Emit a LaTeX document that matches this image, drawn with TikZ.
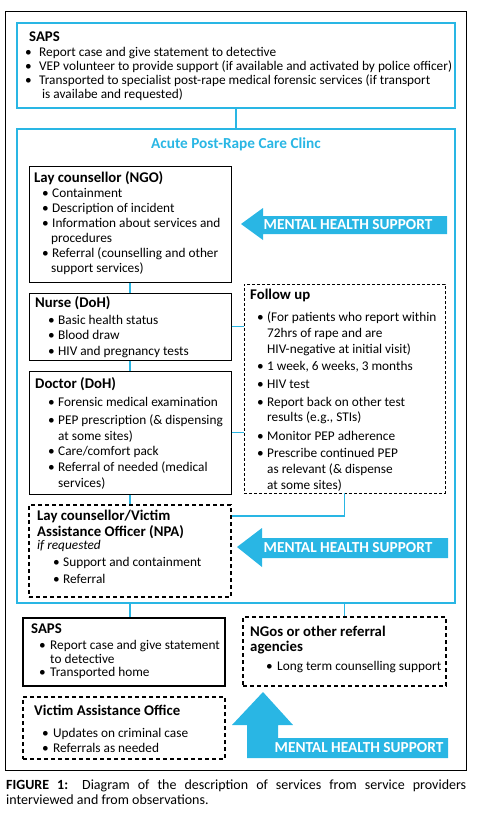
\documentclass[tikz,border=0pt]{standalone}
\usepackage{fontspec}
\setmainfont{Carlito}
\definecolor{cy}{RGB}{41,182,228}
\newcommand\bi[2]{\hspace*{#1}\makebox[#2][l]{\textbullet}}
\newcommand\ci[1]{\hspace*{#1}}
\newcommand\hd[1]{\rule{0pt}{14pt}{\fontsize{14.8}{14}\selectfont\bfseries #1}}
\begin{document}
\begin{tikzpicture}[x=1pt,y=-1pt,
  cybox/.style={draw=cy,line width=2.2pt,inner sep=0pt},
  sbox/.style={draw=black,line width=1pt,inner sep=0pt},
  dbox/.style={draw=black,line width=0.8pt,dash pattern=on 3pt off 2pt,inner sep=0pt},
  tdbox/.style={draw=black,line width=2.2pt,dash pattern=on 4pt off 3pt,inner sep=0pt},
  mdbox/.style={draw=black,line width=1.5pt,dash pattern=on 4pt off 3pt,inner sep=0pt},
  conn/.style={draw=cy,line width=1.5pt},
  txt/.style={anchor=north west,inner sep=0pt,align=left},
  mhs/.style={text=white,font=\fontsize{15.3}{15}\selectfont\bfseries,inner sep=0pt},
  arr/.style={fill=cy,draw=none}]
\useasboundingbox (0,0) rectangle (481,820);
\node[draw=black,line width=0.8pt,minimum width=461pt,minimum height=759pt,inner sep=0pt] (frame) at (235.5,390.5) {};
% boxes
\node[cybox,minimum width=438pt,minimum height=85pt] (saps1) at (236,65.5) {};
\node[cybox,minimum width=438pt,minimum height=474pt] (clinic) at (236,366) {};
\node[sbox,minimum width=202pt,minimum height=116pt] (lay) at (130,224) {};
\node[sbox,minimum width=202pt,minimum height=67pt] (nurse) at (130,326.5) {};
\node[sbox,minimum width=202pt,minimum height=123pt] (doctor) at (130,432.5) {};
\node[dbox,minimum width=201pt,minimum height=209pt] (follow) at (344.5,388.5) {};
\node[tdbox,minimum width=202pt,minimum height=92pt] (vao) at (130,551) {};
\node[sbox,line width=1.6pt,minimum width=202pt,minimum height=68pt] (saps2) at (124,652) {};
\node[mdbox,minimum width=203pt,minimum height=69pt] (ngo) at (344.5,651.5) {};
\node[mdbox,minimum width=202pt,minimum height=62pt] (vaoff) at (124,728) {};
% connectors
\draw[conn] (saps1.south) -- (clinic.north);
\draw[conn] (lay.south) -- (nurse.north);
\draw[conn] (nurse.south) -- (doctor.north);
\draw[conn] (doctor.south) -- (vao.north);
\draw[conn] (nurse.east) -- (follow.west |- nurse.east);
\draw[conn] (doctor.east) -- (follow.west |- doctor.east);
\draw[conn] (follow.south) |- ([yshift=-12pt]vao.north east);
\draw[conn] (lay.south |- clinic.south) -- (lay.south |- saps2.north);
\draw[conn] (ngo.north |- clinic.south) -- (ngo.north);
% title
\node[text=cy,font=\fontsize{15.3}{15}\selectfont\bfseries,inner sep=0pt] (title) at (236,144) {Acute Post-Rape Care Clinc};
% texts
\node[txt,font=\fontsize{13.3}{14}\selectfont] (t1) at (25,27.5) {%
\ci{4pt}\hd{SAPS}\\[0.5pt]
\bi{0pt}{14pt}Report case and give statement to detective\\
\bi{0pt}{14pt}VEP volunteer to provide support (if available and activated by police officer)\\
\bi{0pt}{14pt}Transported to specialist post-rape medical forensic services (if transport\\
\ci{17pt}is availabe and requested)};
\node[txt,font=\fontsize{13.3}{15}\selectfont] (t2) at (34,168.5) {%
\hd{Lay counsellor (NGO)}\\[-0.5pt]
\bi{8pt}{10pt}Containment\\
\bi{8pt}{10pt}Description of incident\\
\bi{8pt}{10pt}Information about services and\\
\ci{17pt}procedures\\
\bi{8pt}{10pt}Referral (counselling and other\\
\ci{17pt}support services)};
\node[txt,font=\fontsize{13.3}{15.5}\selectfont] (t3) at (35,293) {%
\hd{Nurse (DoH)}\\[1.5pt]
\bi{13pt}{10pt}Basic health status\\
\bi{13pt}{10pt}Blood draw\\
\bi{13pt}{10pt}HIV and pregnancy tests};
\node[txt,font=\fontsize{13.3}{16}\selectfont] (t4) at (35,374) {%
\hd{Doctor (DoH)}\\[2pt]
\bi{13pt}{10pt}Forensic medical examination\\[2pt]
\bi{13pt}{10pt}PEP prescription (\& dispensing\\
\ci{23pt}at some sites)\\[-1pt]
\bi{13pt}{10pt}Care/comfort pack\\
\bi{13pt}{10pt}Referral of needed (medical\\
\ci{23pt}services)};
\node[txt,font=\fontsize{13.3}{16}\selectfont] (t5) at (250,285) {%
\hd{Follow up}\\[6pt]
\bi{7pt}{10pt}(For patients who report within\\
\ci{17pt}72hrs of rape and are\\
\ci{17pt}HIV-negative at initial visit)\\[1pt]
\bi{7pt}{10pt}1 week, 6 weeks, 3 months\\[2pt]
\bi{7pt}{10pt}HIV test\\[2pt]
\bi{7pt}{10pt}Report back on other test\\[-1pt]
\ci{17pt}results (e.g., STIs)\\[3pt]
\bi{7pt}{10pt}Monitor PEP adherence\\[1pt]
\bi{7pt}{10pt}Prescribe continued PEP\\
\ci{17pt}as relevant (\& dispense\\
\ci{17pt}at some sites)};
\node[txt,font=\fontsize{13.3}{13.5}\selectfont] (t6) at (37,506) {%
\hd{Lay counsellor/Victim}\\[-1pt]
\hd{Assistance Officer (NPA)}\\[-1pt]
\textit{if requested}\\[4pt]
\bi{16pt}{10pt}Support and containment\\[3.5pt]
\bi{16pt}{10pt}Referral};
\node[txt,font=\fontsize{13.3}{13.5}\selectfont] (t7) at (31,619) {%
\hd{SAPS}\\[3pt]
\bi{8pt}{11pt}Report case and give statement\\
\ci{19pt}to detective\\
\bi{8pt}{11pt}Transported home};
\node[txt,font=\fontsize{13.3}{13}\selectfont] (t8) at (250,622) {%
\hd{NGos or other referral}\\
\hd{agencies}\\[6pt]
\bi{16pt}{11pt}Long term counselling support};
\node[txt,font=\fontsize{13.3}{15}\selectfont] (t9) at (34,701) {%
\hd{Victim Assistance Office}\\[7pt]
\bi{8pt}{11pt}Updates on criminal case\\
\bi{8pt}{11pt}Referrals as needed};
% arrows
\fill[arr] (241,224) -- (263,208) -- (263,216) -- (447,216) -- (447,234) -- (263,234) -- (263,240) -- cycle;
\node[mhs] (m1) at (348,225) {MENTAL HEALTH SUPPORT};
\fill[arr] (237,547) -- (262,528) -- (262,538) -- (448,538) -- (448,558) -- (262,558) -- (262,567) -- cycle;
\node[mhs] (m2) at (348,548) {MENTAL HEALTH SUPPORT};
\fill[arr] (263,692) -- (293,725) -- (278,725) -- (278,738) -- (448,738) -- (448,758) -- (247,758) -- (247,725) -- (232,725) -- cycle;
\node[mhs] (m3) at (359,748) {MENTAL HEALTH SUPPORT};
% caption
\node[anchor=north west,inner sep=0pt,text width=460pt,align=justify,font=\fontsize{14}{15}\selectfont] (cap) at (6,775) {%
\noindent\rule{0pt}{14pt}\textbf{FIGURE 1:} Diagram of the description of services from service providers\linebreak interviewed and from observations.};
\end{tikzpicture}
\end{document}
